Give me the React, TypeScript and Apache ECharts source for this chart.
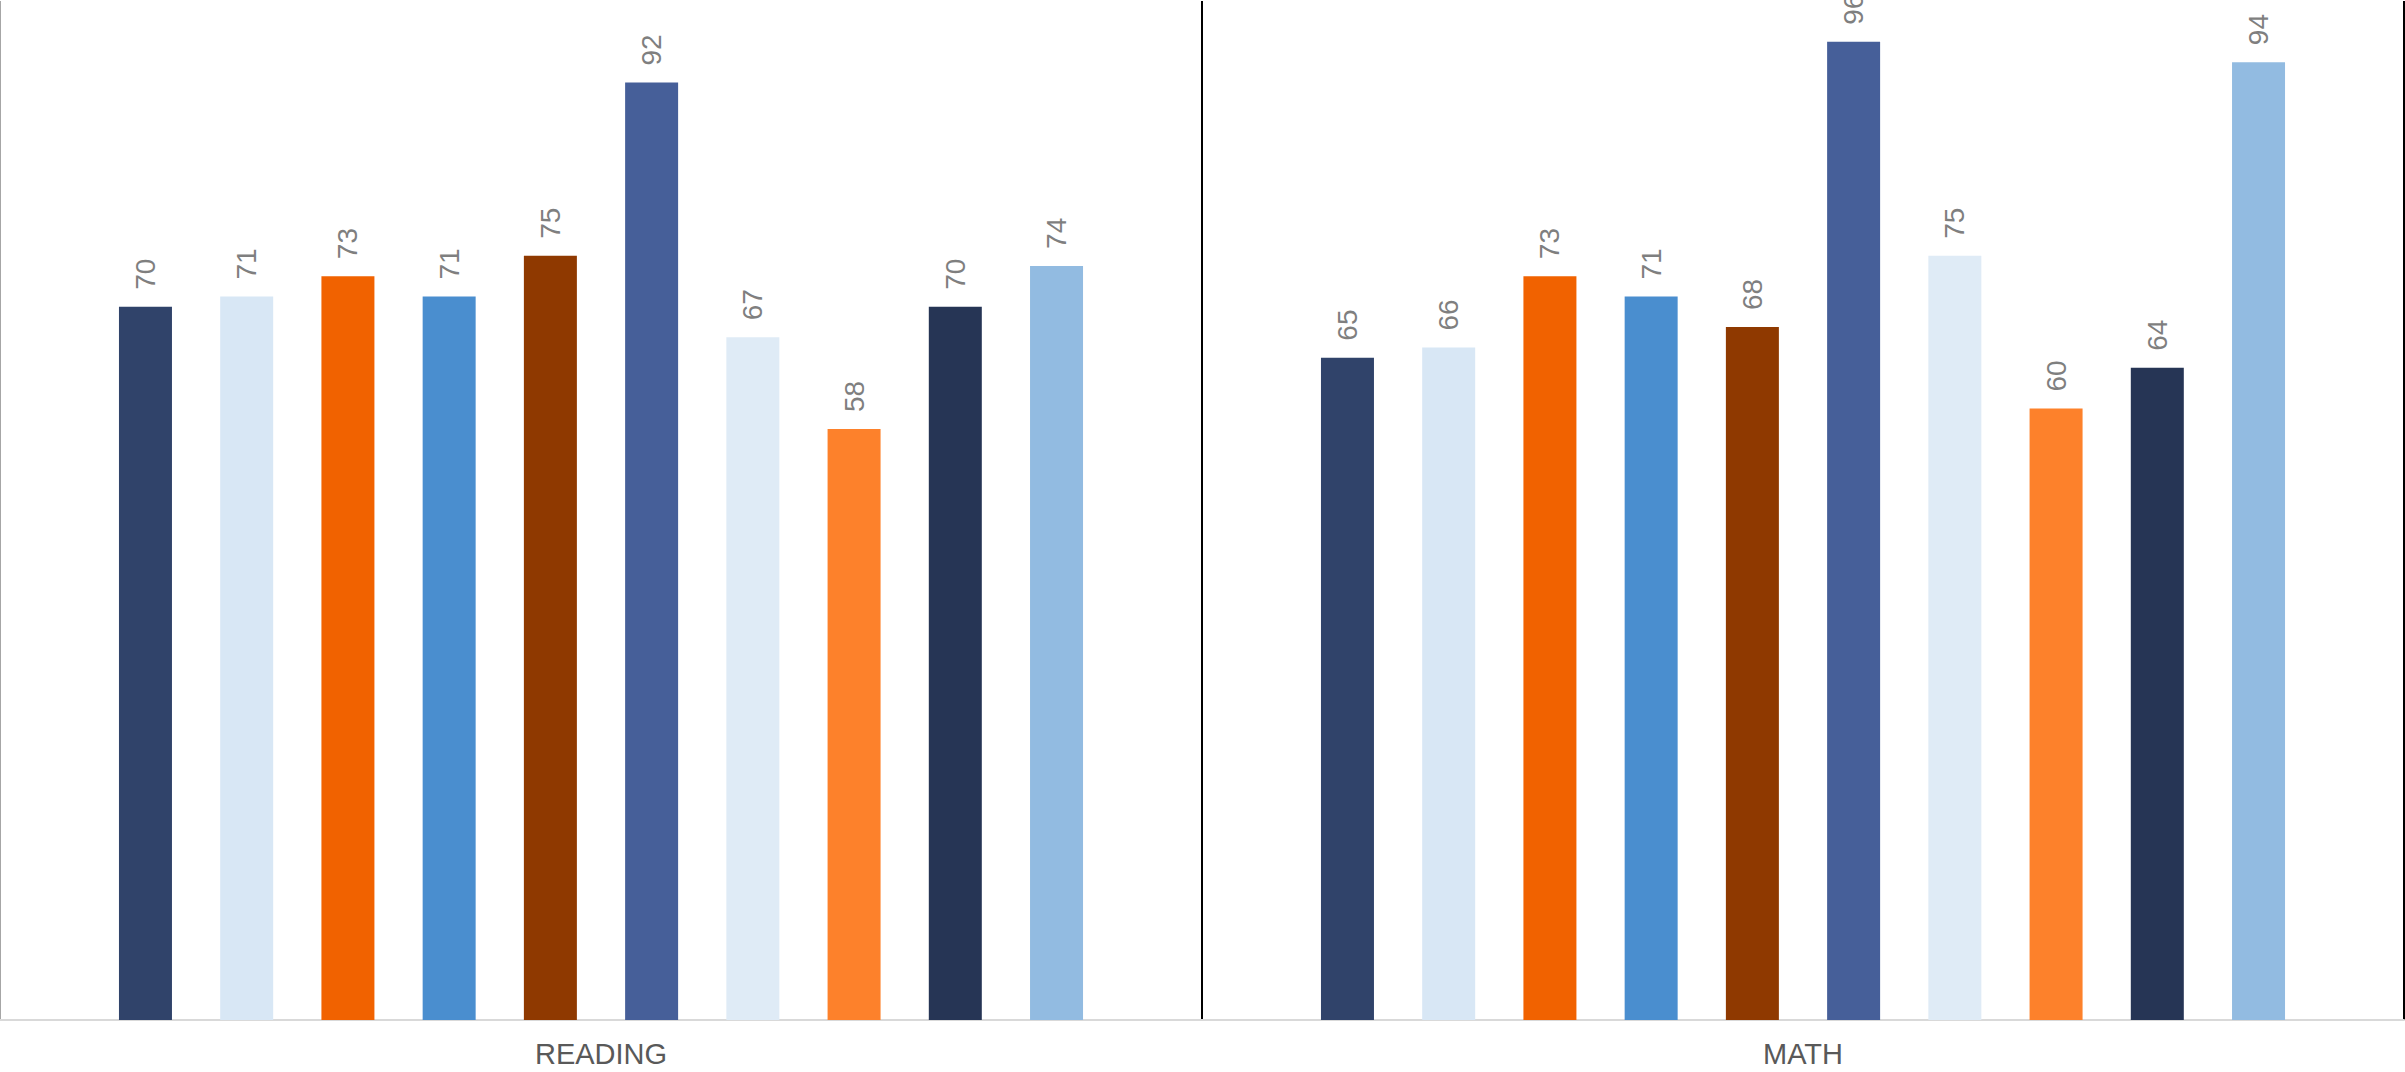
import React, { useEffect, useRef } from "react";
import * as echarts from "echarts";

const categories = ["READING", "MATH"];
const seriesNames = ["S1", "S2", "S3", "S4", "S5", "S6", "S7", "S8", "S9", "S10"];
const readingValues = [70, 71, 73, 71, 75, 92, 67, 58, 70, 74];
const mathValues = [65, 66, 73, 71, 68, 96, 75, 60, 64, 94];
const barColors = [
  "#30436A",
  "#D8E7F5",
  "#F16200",
  "#4A8ECF",
  "#8F3900",
  "#465F99",
  "#DFEBF6",
  "#FD812B",
  "#263555",
  "#92BBE1",
];

const FONT = "'Liberation Sans', Arial, sans-serif";

export default function App() {
  const ref = useRef<HTMLDivElement>(null);

  useEffect(() => {
    document.body.style.margin = "0";
    if (!ref.current) return;
    const chart = echarts.init(ref.current, undefined, { renderer: "svg" });
    const series = seriesNames.map((name, i) => ({
      name,
      type: "bar",
      data: [readingValues[i], mathValues[i]],
      barWidth: 53,
      barGap: "91%",
      itemStyle: { color: barColors[i] },
      label: {
        show: true,
        position: "top",
        rotate: 90,
        align: "left",
        verticalAlign: "middle",
        distance: 17,
        color: "#7F7F7F",
        fontSize: 28,
        fontFamily: FONT,
      },
    }));
    chart.setOption({
      animation: false,
      backgroundColor: "#FFFFFF",
      grid: { left: 0, right: 1, top: 1, bottom: 52, containLabel: false },
      xAxis: {
        type: "category",
        data: categories,
        boundaryGap: true,
        axisLine: { show: true, lineStyle: { color: "#D9D9D9", width: 2 } },
        axisTick: { show: false },
        axisLabel: {
          show: true,
          color: "#595959",
          fontSize: 29,
          fontFamily: FONT,
          margin: 19,
        },
        splitLine: {
          show: true,
          lineStyle: { color: ["#A6A6A6", "#000000", "#000000"], width: 2 },
        },
      },
      yAxis: {
        type: "value",
        min: 0,
        max: 100,
        show: false,
        splitLine: { show: false },
      },
      series,
    });
    return () => chart.dispose();
  }, []);

  return <div ref={ref} style={{ width: 2405, height: 1072 }} />;
}
